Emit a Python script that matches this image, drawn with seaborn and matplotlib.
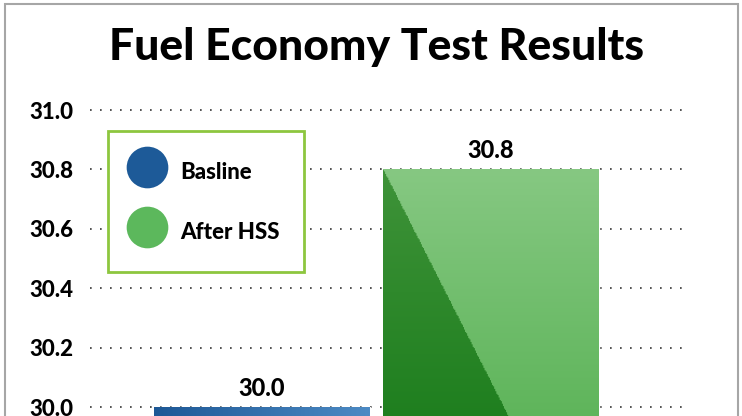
import matplotlib
matplotlib.use("Agg")
import matplotlib.pyplot as plt
import matplotlib.colors as mcolors
from matplotlib.lines import Line2D
from matplotlib.patches import Rectangle
import numpy as np
import seaborn as sns

# data
categories = ["Basline", "After HSS"]
mpg = [30.0, 30.8]
yticks = [30.0, 30.2, 30.4, 30.6, 30.8, 31.0]
title = "Fuel Economy Test Results"

blue = "#2566a6"
green = "#6cbd68"

sns.set_style("white")
plt.rcParams["font.family"] = ["Lato", "DejaVu Sans"]
plt.rcParams["text.color"] = "black"
plt.rcParams["ytick.color"] = "black"
W = "black"

fig = plt.figure(figsize=(7.42, 4.16), dpi=100)
ax = fig.add_axes([90 / 742, 0, 595 / 742, (416 - 110) / 416])

sns.barplot(
    x=categories,
    y=mpg,
    hue=categories,
    palette=[blue, green],
    width=0.943,
    legend=False,
    ax=ax,
    zorder=2,
)

ylo, yhi = 30.0 - 9 / 297.5, 31.0
xlo, xhi = -0.751, 1.847


def grad(top, bottom, nx=200, ny=200):
    t = np.linspace(0, 1, ny)[:, None, None]
    a = np.array(mcolors.to_rgb(top))
    b = np.array(mcolors.to_rgb(bottom))
    return np.broadcast_to(a + (b - a) * t, (ny, nx, 3)).copy()


# gradient fills clipped to the bars
for i, p in enumerate(ax.patches):
    x0, w = p.get_x(), p.get_width()
    top = p.get_height()
    if i == 0:
        fx = np.linspace(0, 1, 200)[None, :, None]
        a = np.array(mcolors.to_rgb("#1d5896"))
        b = np.array(mcolors.to_rgb("#4c8ac4"))
        img = np.broadcast_to(a + (b - a) * fx, (200, 200, 3)).copy()
    else:
        light = grad("#86c882", "#5fb55b")
        dark = grad("#3f9339", "#1f7f1f")
        fy = np.linspace(0, 1, 200)[:, None]
        fxx = np.linspace(0, 1, 200)[None, :]
        mask = fxx < 0.58 * fy
        img = np.where(mask[..., None], dark, light)
    im = ax.imshow(img, extent=[x0, x0 + w, ylo, top], aspect="auto", zorder=3)
    im.set_clip_path(p)

for c in ax.containers:
    ax.bar_label(c, fmt="%.1f", padding=5, fontsize=17, fontweight=W, zorder=5)

ax.set_xlim(xlo, xhi)
ax.set_ylim(ylo, yhi)
ax.set_yticks(yticks)
ax.set_yticklabels([f"{v:.1f}" for v in yticks], fontsize=16, fontweight=W)
ax.tick_params(axis="y", length=0, pad=12)
ax.set_xticks([])
ax.set_axisbelow(True)
ax.yaxis.grid(True, color="#333333", linestyle=(0, (1, 5)), linewidth=1.2)
for gl in ax.get_ygridlines():
    gl.set_clip_on(False)
sns.despine(ax=ax, left=True, bottom=True)

handles = [
    Line2D([], [], marker="o", linestyle="none", markersize=30,
           markerfacecolor="#1d5a98", markeredgecolor="none"),
    Line2D([], [], marker="o", linestyle="none", markersize=30,
           markerfacecolor="#5cb85c", markeredgecolor="none"),
]
leg = ax.legend(
    handles, categories,
    loc="upper left",
    bbox_to_anchor=(108 / 742, 1 - 131 / 416),
    bbox_transform=fig.transFigure,
    prop={"size": 16, "weight": W},
    frameon=True, fancybox=False,
    handleheight=1.85, handlelength=1.3, labelspacing=1.25,
    borderpad=1.1, handletextpad=0.85, borderaxespad=0,
)
leg.get_frame().set_edgecolor("#8dc63f")
leg.get_frame().set_linewidth(2)
leg.get_frame().set_facecolor("white")
leg.get_frame().set_alpha(1)

fig.text(0.507, 0.887, title, ha="center", va="center",
         fontsize=32, fontweight=W)

fig.add_artist(Rectangle((5 / 742, -0.1), 733 / 742, 0.1 + 412 / 416,
                         transform=fig.transFigure, fill=False,
                         edgecolor="#a6a6a6", linewidth=1.5))

fig.savefig("out.png", dpi=100)
